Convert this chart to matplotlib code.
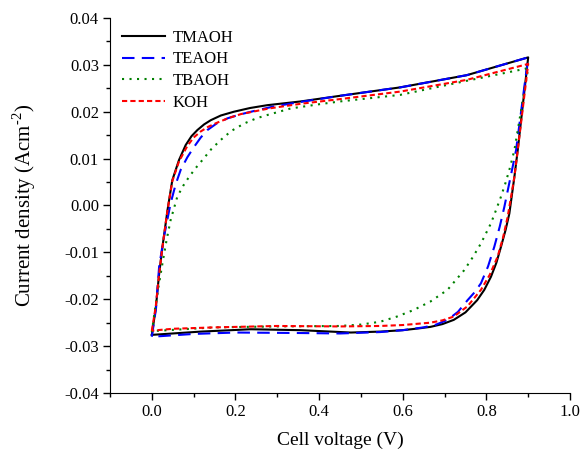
import matplotlib
matplotlib.use('Agg')
import matplotlib.pyplot as plt
from matplotlib.ticker import MultipleLocator

plt.rcParams['font.family'] = ['Liberation Serif', 'DejaVu Serif']
plt.rcParams['mathtext.fontset'] = 'custom'
plt.rcParams['mathtext.rm'] = 'Liberation Serif'

labels = ["TMAOH", "TEAOH", "TBAOH", "KOH"]

# TMAOH: charging branch then discharging branch (V, A/cm2)
tmaoh_v = [0.0, 0.0095, 0.017, 0.0255, 0.0375, 0.049, 0.065, 0.081, 0.095, 0.109, 0.125, 0.141, 0.165, 0.196,
           0.235, 0.276, 0.356, 0.45, 0.594, 0.753, 0.9,
           0.875, 0.867, 0.855, 0.846, 0.835, 0.824, 0.811, 0.795, 0.778, 0.75, 0.722, 0.695, 0.666, 0.64,
           0.6, 0.546, 0.476, 0.356, 0.237, 0.117, 0.0]
tmaoh_j = [-0.0276, -0.0219, -0.0150, -0.0088, -0.0010, 0.0054, 0.0097, 0.0129, 0.0148, 0.0161, 0.0173, 0.0182, 0.0192, 0.0200,
           0.0208, 0.0214, 0.0222, 0.0234, 0.0252, 0.0278, 0.0316,
           0.0118, 0.0061, -0.0017, -0.0052, -0.0088, -0.0122, -0.0152, -0.0180, -0.0202, -0.0228, -0.0244, -0.0253, -0.0259, -0.0262,
           -0.0266, -0.0269, -0.0271, -0.0266, -0.0264, -0.0269, -0.0276]

tea_v = [0.0, 0.01, 0.0175, 0.029, 0.045, 0.057, 0.069, 0.085, 0.101, 0.117, 0.133, 0.155, 0.181, 0.21, 0.237,
         0.29, 0.356, 0.45, 0.594, 0.753, 0.9,
         0.871, 0.863, 0.853, 0.843, 0.832, 0.819, 0.804, 0.787, 0.772, 0.755, 0.732, 0.707, 0.68, 0.65,
         0.6, 0.546, 0.45, 0.35, 0.2, 0.1, 0.0]
tea_j = [-0.0280, -0.0220, -0.0130, -0.0067, 0.0005, 0.0045, 0.0076, 0.0103, 0.0125, 0.0145, 0.0161, 0.0175, 0.0186, 0.0194, 0.0200,
         0.0211, 0.0221, 0.0234, 0.0252, 0.0278, 0.0316,
         0.0118, 0.0083, 0.0040, -0.0003, -0.0045, -0.0088, -0.0130, -0.0166, -0.0185, -0.0202, -0.0227, -0.0244, -0.0254, -0.0260,
         -0.0266, -0.0270, -0.0273, -0.0272, -0.0271, -0.0274, -0.0280]

tba_v = [0.0, 0.007, 0.0135, 0.0255, 0.035, 0.045, 0.061, 0.075, 0.089, 0.105, 0.121, 0.142, 0.165, 0.19, 0.221,
         0.25, 0.276, 0.332, 0.4, 0.45, 0.594, 0.753, 0.9,
         0.867, 0.855, 0.845, 0.835, 0.823, 0.811, 0.787, 0.767, 0.747, 0.707, 0.666, 0.626, 0.586, 0.546,
         0.5, 0.45, 0.3, 0.15, 0.0]
tba_j = [-0.0270, -0.0225, -0.0187, -0.0123, -0.0075, -0.0031, 0.0019, 0.0042, 0.0061, 0.0080, 0.0097, 0.0120, 0.0140, 0.0159, 0.0175,
         0.0186, 0.0193, 0.0207, 0.0216, 0.0222, 0.0236, 0.0266, 0.0293,
         0.0118, 0.0076, 0.0046, 0.0019, -0.0010, -0.0038, -0.0081, -0.0111, -0.0138, -0.0180, -0.0205, -0.0223, -0.0237, -0.0248,
         -0.0254, -0.0257, -0.0258, -0.0260, -0.0268]

koh_v = [0.0, 0.0095, 0.017, 0.0255, 0.0375, 0.049, 0.065, 0.085, 0.1, 0.117, 0.135, 0.157, 0.185, 0.213, 0.28,
         0.356, 0.45, 0.594, 0.753, 0.9,
         0.875, 0.867, 0.851, 0.84, 0.827, 0.808, 0.787, 0.755, 0.722, 0.695, 0.666, 0.6, 0.546,
         0.45, 0.3, 0.15, 0.05, 0.0]
koh_j = [-0.0267, -0.0215, -0.0150, -0.0088, -0.0010, 0.0052, 0.0094, 0.0127, 0.0145, 0.0158, 0.0168, 0.0177, 0.0187, 0.0195, 0.0207,
         0.0217, 0.0227, 0.0243, 0.0268, 0.0302,
         0.0118, 0.0061, -0.0024, -0.0068, -0.0109, -0.0148, -0.0180, -0.0215, -0.0237, -0.0245, -0.0250, -0.0255, -0.0257,
         -0.0258, -0.0257, -0.0260, -0.0263, -0.0267]

fig = plt.figure(figsize=(5.8, 4.51), dpi=100)
ax = fig.add_axes([110/580, 58/451, 460/580, 375/451])

ax.plot(tmaoh_v, tmaoh_j, color='black', lw=1.5, label=labels[0])
ax.plot(tea_v, tea_j, color='blue', lw=1.5, dashes=(6, 3.5), label=labels[1])
ax.plot(tba_v, tba_j, color='green', lw=1.5, dashes=(1, 2.6), label=labels[2])
ax.plot(koh_v, koh_j, color='red', lw=1.5, dashes=(2.5, 1.5), label=labels[3])

ax.set_xlim(-0.1, 1.0)
ax.set_ylim(-0.04, 0.04)
ax.xaxis.set_major_locator(MultipleLocator(0.2))
ax.xaxis.set_minor_locator(MultipleLocator(0.1))
ax.yaxis.set_major_locator(MultipleLocator(0.01))
ax.yaxis.set_minor_locator(MultipleLocator(0.005))
ax.xaxis.set_major_formatter(plt.FormatStrFormatter('%.1f'))
ax.yaxis.set_major_formatter(plt.FormatStrFormatter('%.2f'))

for s in ['top', 'right']:
    ax.spines[s].set_visible(False)
ax.tick_params(which='both', direction='out', labelsize=12, width=1)
ax.tick_params(which='major', length=5, pad=3)
ax.tick_params(which='minor', length=3)

ax.set_xlabel('Cell voltage (V)', fontsize=14, labelpad=8)
ax.set_ylabel('Current density (Acm$^{\\text{-2}}$)', fontsize=15, labelpad=19)

ax.legend(loc='upper left', frameon=False, fontsize=12, handlelength=2.6,
          handletextpad=0.45, labelspacing=0.35, borderaxespad=0.3, bbox_to_anchor=(0.0, 1.0))

fig.savefig('out.png', dpi=100)
